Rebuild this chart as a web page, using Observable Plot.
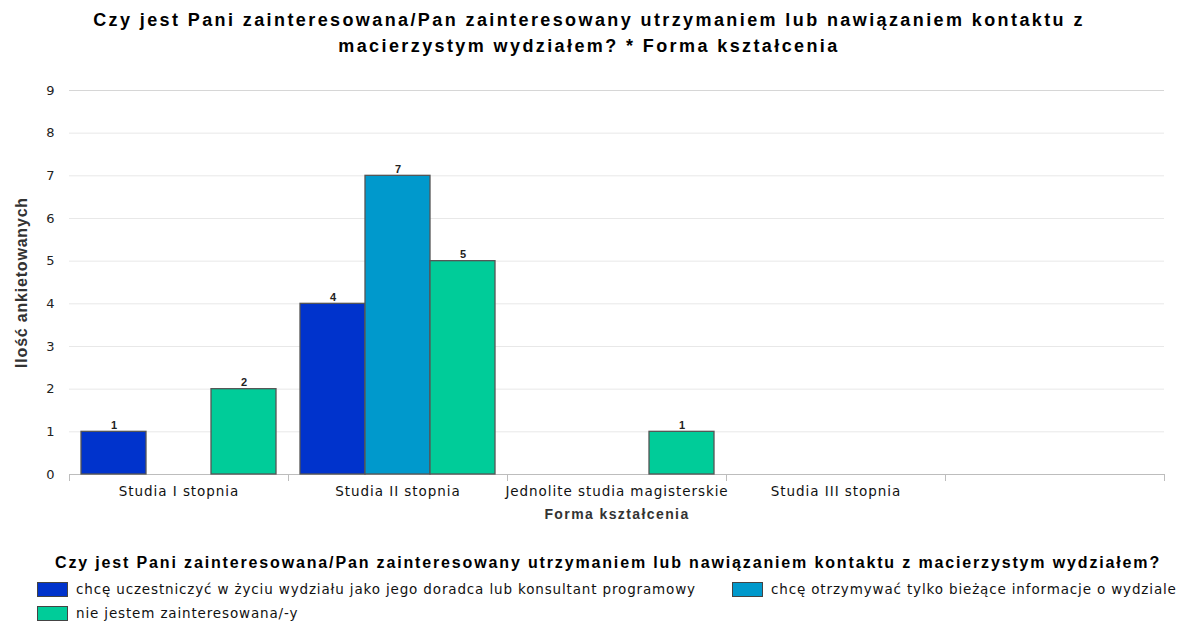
<!DOCTYPE html>
<html>
<head>
<meta charset="utf-8">
<script src="https://cdn.jsdelivr.net/npm/d3@7"></script>
<script src="https://cdn.jsdelivr.net/npm/@observablehq/plot@0.6"></script>
<style>
  html, body { margin: 0; padding: 0; background: #fff; }
  #wrap { position: relative; width: 1178px; height: 623px; overflow: hidden; font-family: "Liberation Sans", Arial, sans-serif; }
  #title { position: absolute; left: 0; top: 7px; width: 1178px; text-align: center; font-weight: bold; font-size: 18px; letter-spacing: 2.4px; line-height: 26px; color: #000; }
  #chart { position: absolute; left: 0; top: 60px; }
  #legend-title { position: absolute; left: 55px; top: 554px; font-weight: bold; font-size: 16px; letter-spacing: 1.85px; color: #000; white-space: nowrap; }
  .item { position: absolute; font-family: "DejaVu Sans", sans-serif; font-size: 13.5px; letter-spacing: 0.85px; color: #111; white-space: nowrap; display: flex; align-items: center; }
  .sw { width: 29px; height: 13px; border: 1px solid #444; margin-right: 8px; box-sizing: content-box; }
  #chart svg [aria-label="y-axis label"] text { font-weight: bold; font-family: "Liberation Sans", Arial, sans-serif; font-size: 16px; letter-spacing: 0.8px; fill: #333; }
  #chart svg [aria-label="fx-axis label"] text { font-weight: bold; font-family: "Liberation Sans", Arial, sans-serif; font-size: 14px; letter-spacing: 1.4px; fill: #333; }
  #chart svg [aria-label="fx-axis tick label"] text { letter-spacing: 0.95px; }
</style>
</head>
<body>
<div id="wrap">
  <div id="title">Czy jest Pani zainteresowana/Pan zainteresowany utrzymaniem lub nawiązaniem kontaktu z<br>macierzystym wydziałem? * Forma kształcenia</div>
  <div id="chart"></div>
  <div id="legend-title">Czy jest Pani zainteresowana/Pan zainteresowany utrzymaniem lub nawiązaniem kontaktu z macierzystym wydziałem?</div>
  <div id="legend"></div>
</div>
<script>
const categories = ["Studia I stopnia", "Studia II stopnia", "Jednolite studia magisterskie", "Studia III stopnia", ""];
const seriesNames = [
  "chcę uczestniczyć w życiu wydziału jako jego doradca lub konsultant programowy",
  "chcę otrzymywać tylko bieżące informacje o wydziale",
  "nie jestem zainteresowana/-y"
];
const valuesDoradca = [1, 4, 0, 0, 0];
const valuesInformacje = [0, 7, 0, 0, 0];
const valuesNie = [2, 5, 1, 0, 0];
const seriesColors = ["#0033cc", "#0099cc", "#00cc99"];
const yTicks = [0, 1, 2, 3, 4, 5, 6, 7, 8, 9];

const seriesValues = [valuesDoradca, valuesInformacje, valuesNie];
const data = [];
seriesNames.forEach((s, i) => categories.forEach((c, j) => data.push({category: c, series: s, value: seriesValues[i][j]})));
const shown = data.filter(d => d.value > 0);
const facetKeys = categories.map(c => ({category: c}));

const chart = Plot.plot({
  width: 1178,
  height: 470,
  marginLeft: 68,
  marginRight: 13,
  marginTop: 30,
  marginBottom: 56,
  style: {fontFamily: "'DejaVu Sans', sans-serif", fontSize: "13px", color: "#222", background: "#fff"},
  fx: {domain: categories, padding: 0, axis: null},
  x: {domain: seriesNames, paddingInner: 0, paddingOuter: 0.16, axis: null},
  y: {domain: [0, 9], axis: null},
  color: {domain: seriesNames, range: seriesColors},
  marks: [
    Plot.gridY(yTicks, {stroke: "#e8e8e8", strokeOpacity: 1}),
    Plot.ruleY(facetKeys, {fx: "category", y: 9, stroke: "#d6d6d6"}),
    Plot.ruleY(facetKeys, {fx: "category", y: 0, stroke: "#bdbdbd"}),
    Plot.frame({anchor: "left", insetTop: 384, insetBottom: -6, stroke: "#bdbdbd"}),
    Plot.frame({anchor: "right", insetTop: 384, insetBottom: -6, stroke: "#bdbdbd"}),
    Plot.axisY(yTicks, {anchor: "left", line: true, tickSize: 0, tickPadding: 15, stroke: "#bdbdbd", fill: "#222", fontSize: 13,
      label: "Ilość ankietowanych", labelAnchor: "center", labelArrow: "none", labelOffset: 54}),
    Plot.axisY({anchor: "right", ticks: [], line: true, stroke: "#cfcfcf", label: null}),
    Plot.axisFx({anchor: "bottom", tickSize: 0, tickPadding: 12, fontSize: 13.5, fill: "#111",
      label: "Forma kształcenia", labelAnchor: "center", labelArrow: "none", labelOffset: 44}),
    Plot.barY(shown, {fx: "category", x: "series", y: "value", fill: "series", stroke: "#555", strokeWidth: 1.3}),
    Plot.text(shown, {fx: "category", x: "series", y: "value", text: d => String(d.value), dy: -3, lineAnchor: "bottom",
      fontWeight: "bold", fontSize: 11, fill: "#222", fontFamily: "'Liberation Sans', Arial, sans-serif"})
  ]
});
document.getElementById("chart").appendChild(chart);

const legend = document.getElementById("legend");
const pos = [[37, 581], [732, 581], [37, 605]];
seriesNames.forEach((s, i) => {
  const item = document.createElement("div");
  item.className = "item";
  item.style.left = pos[i][0] + "px";
  item.style.top = pos[i][1] + "px";
  const sw = document.createElement("div");
  sw.className = "sw";
  sw.style.background = seriesColors[i];
  const t = document.createElement("span");
  t.textContent = s;
  item.appendChild(sw);
  item.appendChild(t);
  legend.appendChild(item);
});
</script>
</body>
</html>
